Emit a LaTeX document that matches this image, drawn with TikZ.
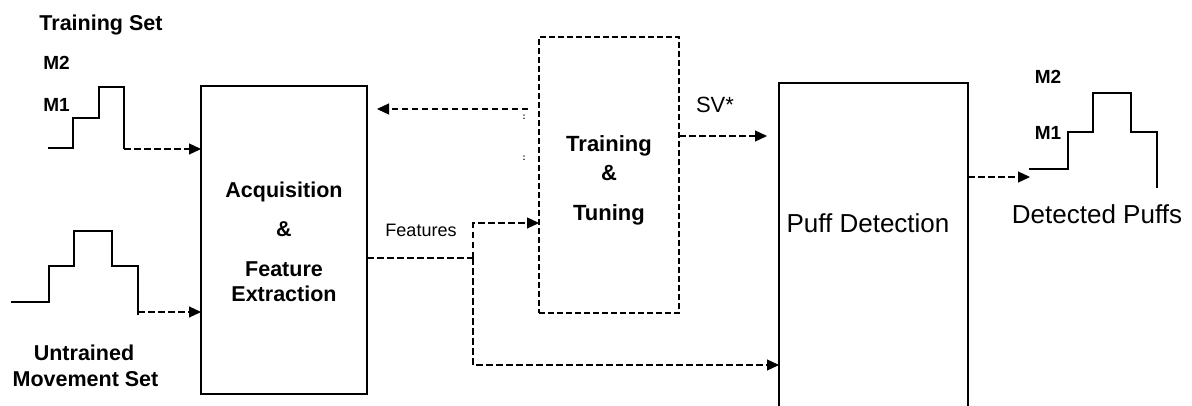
\documentclass[tikz,border=0pt]{standalone}
\usepackage{fontspec}
\setmainfont{Liberation Sans}
\usetikzlibrary{arrows.meta,calc}
\begin{document}
\begin{tikzpicture}[x=1pt,y=-1pt,
  blk/.style={draw, line width=1.3pt, inner sep=0pt, outer sep=0pt},
  dblk/.style={blk, dash pattern=on 6pt off 3pt},
  dline/.style={line width=1.2pt, dash pattern=on 6.5pt off 3.5pt},
  darrow/.style={dline, -{Triangle[length=12pt,width=11pt]}},
  sig/.style={line width=1.3pt},
  bt/.style={font=\fontsize{21.5}{24}\bfseries\selectfont, inner sep=0pt, anchor=base},
  mt/.style={font=\fontsize{19}{22}\bfseries\selectfont, inner sep=0pt, anchor=base},
  rt/.style={font=\fontsize{26}{30}\selectfont, inner sep=0pt, anchor=base},
  st/.style={font=\fontsize{18}{21}\selectfont, inner sep=0pt, anchor=base},
  sv/.style={font=\fontsize{22}{26}\selectfont, inner sep=0pt, anchor=base},
  tiny/.style={font=\fontsize{9}{10}\bfseries\selectfont, inner sep=0pt}]
\useasboundingbox (0,0) rectangle (1192,405);
\clip (0,0) rectangle (1192,405);

% boxes
\node[blk, minimum width=166pt, minimum height=308pt] (acq) at (284,240) {};
\node[dblk, minimum width=140pt, minimum height=276pt] (train) at (609,175) {};
\node[blk, minimum width=189pt, minimum height=347pt] (puff) at (873.5,256.5) {};

% box texts
\node[bt] (acq1) at (284,197) {Acquisition};
\node[bt] (acq2) at (284,236) {\&};
\node[bt] (acq3) at (284,276) {Feature};
\node[bt] (acq4) at (284,301) {Extraction};
\node[bt, font=\fontsize{22}{25}\bfseries\selectfont] (tr1) at (609,151) {Training};
\node[bt, font=\fontsize{22}{25}\bfseries\selectfont] (tr2) at (609,180) {\&};
\node[bt, font=\fontsize{22}{25}\bfseries\selectfont] (tr3) at (609,220) {Tuning};
\node[rt] (pufftext) at (868,232) {Puff Detection};

% other labels
\node[bt] (trainset) at (101,30) {Training Set};
\node[mt] (m2a) at (56.5,69) {M2};
\node[mt] (m1a) at (56.5,111) {M1};
\node[bt] (untr1) at (84,360) {Untrained};
\node[bt] (untr2) at (85.5,386) {Movement Set};
\node[st] (feat) at (421,236) {Features};
\node[sv] (svlab) at (715,112) {SV*};
\node[rt] (detected) at (1097,223) {Detected Puffs};
\node[mt] (m2b) at (1048,83) {M2};
\node[mt] (m1b) at (1048,139) {M1};
\node[tiny] (col1) at (524,117) {:};
\node[tiny] (col2) at (524,158) {:};

% signals
\coordinate (s1end) at (124,149);
\coordinate (s2end) at (138,312);
\coordinate (outtip) at (1030,177);
\draw[sig] (48,148) -- (73,148) -- (73,118) -- (99,118) -- (99,87) -- (124,87) -- (124,149);
\draw[sig] (11,302) -- (49,302) -- (49,266) -- (74,266) -- (74,231) -- (112,231) -- (112,266) -- (138,266) -- (138,315);
\draw[sig] (1029,169) -- (1068,169) -- (1068,132) -- (1093,132) -- (1093,93) -- (1131,93) -- (1131,132) -- (1157,132) -- (1157,188);

% connectors
\draw[darrow] (s1end) -- (acq.west |- s1end);
\draw[darrow] (s2end) -- (acq.west |- s2end);
\draw[darrow] ($(train.west |- 0,109)+(-11,0)$) -- ($(acq.east |- 0,109)+(10,0)$);
\coordinate (j) at (473,258);
\draw[dline] (acq.east |- j) -- (j);
\draw[darrow] (j) |- (train.west |- 0,223);
\draw[darrow] (j) |- (puff.west |- 0,365);
\draw[darrow] (train.east |- 0,136) -- ($(puff.west |- 0,136)+(-12,0)$);
\draw[darrow] (puff.east |- outtip) -- (outtip);
\end{tikzpicture}
\end{document}
